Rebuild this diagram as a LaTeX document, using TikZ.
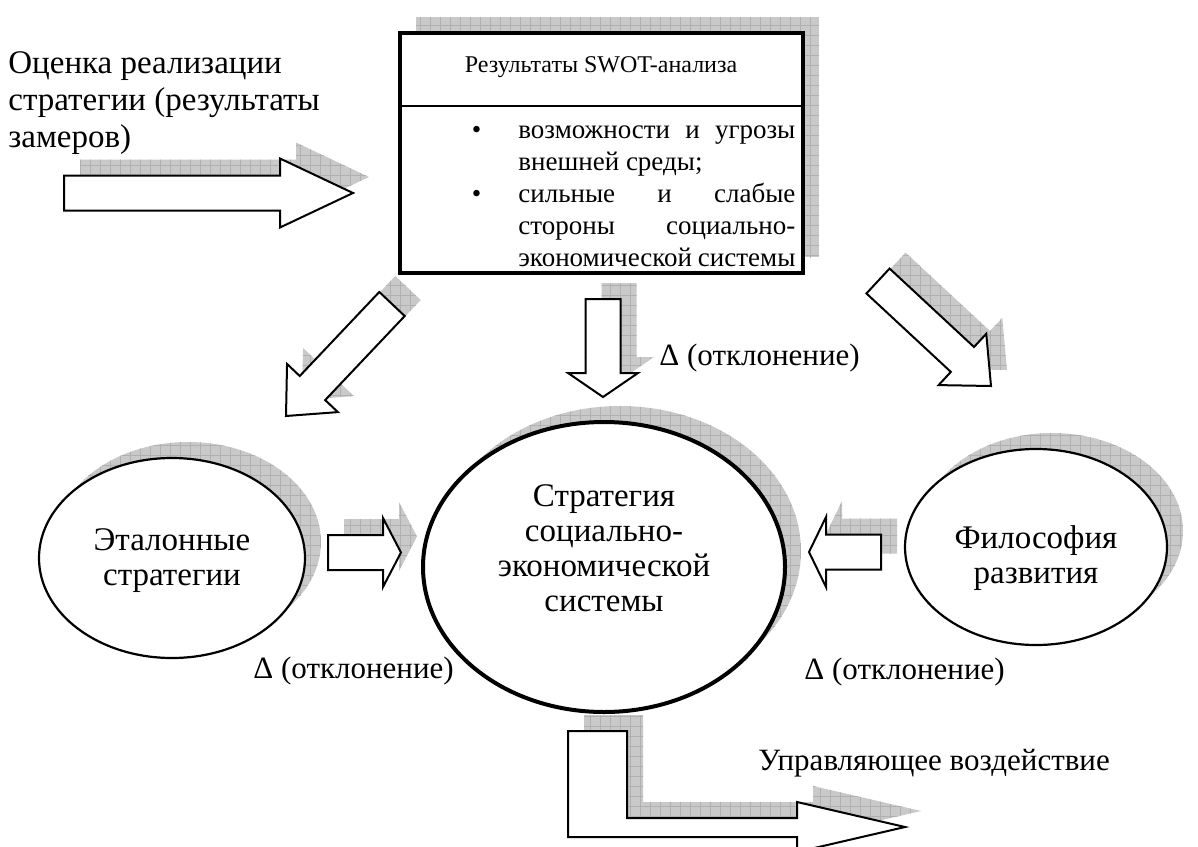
\documentclass[tikz,border=0pt]{standalone}
\usepackage{fontspec}
\setmainfont{Liberation Serif}
\usetikzlibrary{calc, shapes.geometric, shadows, patterns.meta}

\tikzdeclarepattern{
  name=shadegrid,
  type=uncolored,
  bounding box={(-0.2pt,-0.2pt) and (5.2pt,5.2pt)},
  tile size={(5pt,5pt)},
  code={\draw[line width=0.5pt] (0pt,0pt) -- (5pt,0pt) (0pt,0pt) -- (0pt,5pt);}
}

% block arrow: tail, tip, shaft half-width, head half-width, head length
\newcommand{\blockarrow}[5]{%
  \coordinate (hb) at ($(#2)!#5!(#1)$);
  \def\arrpath{($(#1)!#3!90:(#2)$) -- ($(hb)!#3!90:(#2)$) -- ($(hb)!#4!90:(#2)$) -- (#2)
    -- ($(hb)!#4!-90:(#2)$) -- ($(hb)!#3!-90:(#2)$) -- ($(#1)!#3!-90:(#2)$) -- cycle}
  \fill[shadowfill, transform canvas={shift={(8pt,8pt)}}] \arrpath;
  \draw[barrow] \arrpath;
}

\begin{document}
\begin{tikzpicture}[x=0.5pt, y=-0.5pt,
    shadowfill/.style={fill=gray!42, postaction={pattern=shadegrid, pattern color=gray!62}},
    shadowed/.style={drop shadow={shadow xshift=8pt, shadow yshift=8pt, opacity=1, shadowfill}},
    oval/.style={draw, ellipse, fill=white, line width=1.1pt, shadowed},
    bigtxt/.style={font=\fontsize{16.5}{17.5}\selectfont, align=center, inner sep=0pt},
    lefttxt/.style={font=\fontsize{16.5}{18.5}\selectfont, align=left, inner sep=0pt},
    midtxt/.style={font=\fontsize{15.5}{18}\selectfont, inner sep=0pt},
    boxtxt/.style={font=\fontsize{13.5}{16}\selectfont, inner sep=0pt},
    titletxt/.style={font=\fontsize{12}{14}\selectfont, inner sep=0pt},
    barrow/.style={draw, fill=white, line width=1pt, line join=miter}
]
\clip (0,0) rectangle (1198,846);

% ---- SWOT results box ----
\node[draw, fill=white, line width=1.75pt, shadowed, inner sep=0pt,
      minimum width=201.5pt, minimum height=120pt] (swot) at (601.5,153) {};
\draw[line width=0.8pt] ($(swot.north west)!0.308!(swot.south west)$)
    -- ($(swot.north east)!0.308!(swot.south east)$);
\node[titletxt, anchor=base] (swot-title) at (601,72) {Результаты SWOT-анализа};
\node[boxtxt, text width=138.5pt, align=justify, anchor=north west] (swot-list) at (518,116)
    {\strut\llap{\textbullet\hspace{18.5pt}}возможности и угрозы\linebreak внешней среды;\\
     \llap{\textbullet\hspace{18.5pt}}сильные и слабые\linebreak стороны социально-\linebreak экономической системы};

% ---- input text ----
\node[lefttxt, anchor=north west] (eval-txt) at (8,47)
    {\strut Оценка реализации\\стратегии (результаты\\замеров)};

% ---- ellipses ----
\node[oval, minimum width=133pt, minimum height=100pt] (etalon) at (172,558) {};
\node[oval, line width=2pt, minimum width=181pt, minimum height=145pt] (strat) at (604,567) {};
\node[oval, minimum width=131pt, minimum height=98pt] (philo) at (1036,547) {};

\node[bigtxt] (etalon-txt) at (etalon.center) [yshift=-1.5pt] {Эталонные\\стратегии};
\node[bigtxt] (strat-txt)  at (strat.center)  [yshift=9.5pt] {Стратегия\\социально-\\экономической\\системы};
\node[bigtxt] (philo-txt)  at (philo.center)  [yshift=-5.5pt] {Философия\\развития};

% ---- block arrows ----
\coordinate (in-tail)    at (64,193);
\coordinate (in-tip)     at (353,193);
\coordinate (etl-tail)   at (392,304);
\coordinate (etl-tip)    at (286,416);
\coordinate (dev-tail)   at (603,299);
\coordinate (dev-tip)    at (603,397);
\coordinate (phl-tail)   at (878,281);
\coordinate (phl-tip)    at (991,386);
\coordinate (etin-tail)  at (328,552.5);
\coordinate (etin-tip)   at (401,552.5);
\coordinate (phin-tail)  at (881,552);
\coordinate (phin-tip)   at (809,552);

\blockarrow{in-tail}{in-tip}{8.75pt}{17.25pt}{36.5pt}
\blockarrow{etl-tail}{etl-tip}{8.75pt}{17.5pt}{19.25pt}
\blockarrow{dev-tail}{dev-tip}{8.75pt}{17.5pt}{12pt}
\blockarrow{phl-tail}{phl-tip}{8.5pt}{17.5pt}{19.5pt}
\blockarrow{etin-tail}{etin-tip}{8.75pt}{17.25pt}{9pt}
\blockarrow{phin-tail}{phin-tip}{8.75pt}{17.5pt}{8.5pt}

% ---- output arrow ----
\coordinate (out-tail) at (568,731);
\def\outpath{(out-tail) -- ++(59,0) -- ++(0,87) -- ++(170,0) -- ++(0,-16) -- ++(108,25)
    -- ++(-108,25) -- ++(0,-15) -- ++(-229,0) -- cycle}
\fill[shadowfill, transform canvas={shift={(8pt,8pt)}}] \outpath;
\draw[barrow] \outpath;

% ---- labels ----
\node[midtxt, anchor=base west] (dev-top)   at (659,365) {Δ (отклонение)};
\node[midtxt, anchor=base west] (dev-left)  at (253,678) {Δ (отклонение)};
\node[midtxt, anchor=base west] (dev-right) at (804,679) {Δ (отклонение)};
\node[midtxt, anchor=base west] (ctrl-txt)  at (758,770) {Управляющее воздействие};

\end{tikzpicture}
\end{document}
